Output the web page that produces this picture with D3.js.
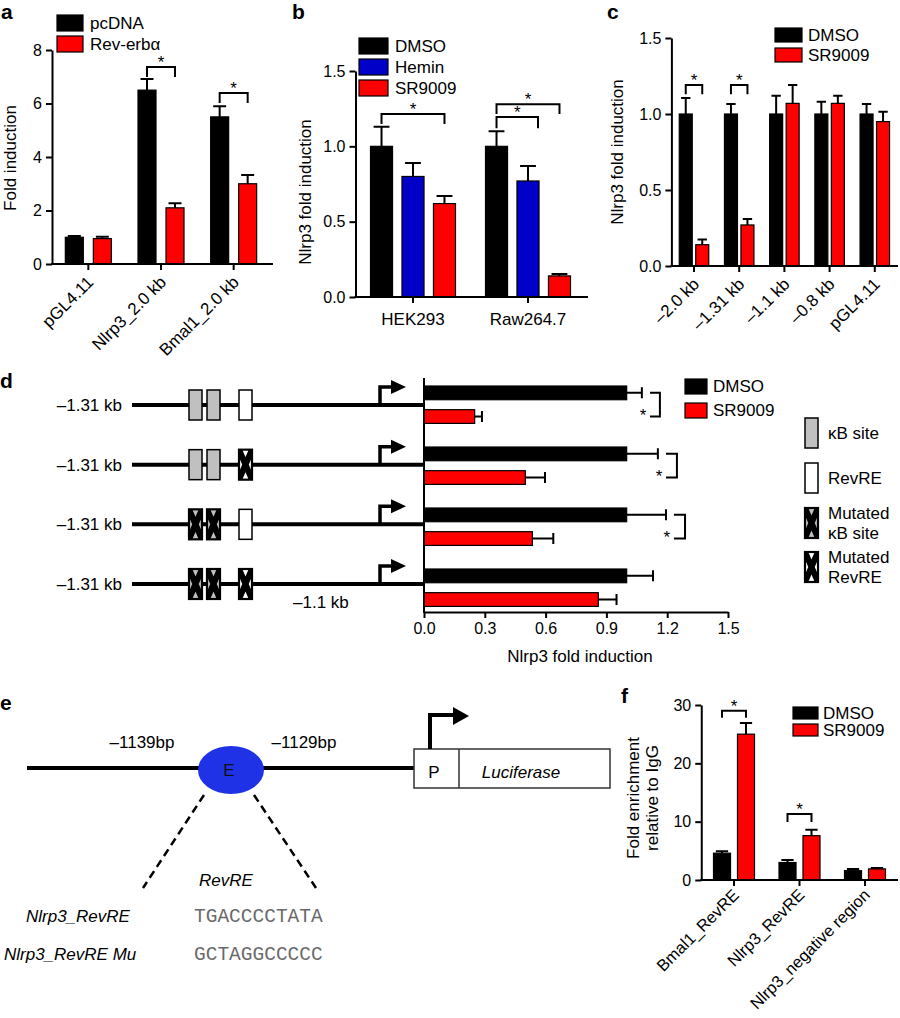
<!DOCTYPE html>
<html>
<head>
<meta charset="utf-8">
<script src="https://cdn.jsdelivr.net/npm/d3@7"></script>
<style>
  body { margin: 0; background: #fff; }
  text { font-family: "Liberation Sans", Arial, Helvetica, sans-serif; fill: #000; }
</style>
</head>
<body>
<div id="fig"></div>
<script>
// ---- panel a : luciferase reporters, pcDNA vs Rev-erba
const aGroups = ["pGL4.11", "Nlrp3_2.0 kb", "Bmal1_2.0 kb"];
const aSeries = ["pcDNA", "Rev-erbα"];
const aMeans = [[1.0, 0.95], [6.5, 2.1], [5.5, 3.0]];
const aErrs = [[0.05, 0.07], [0.42, 0.17], [0.4, 0.33]];
const aTicks = [0, 2, 4, 6, 8];

// ---- panel b : DMSO / Hemin / SR9009 in two cell lines
const bGroups = ["HEK293", "Raw264.7"];
const bSeries = ["DMSO", "Hemin", "SR9009"];
const bMeans = [[1.0, 0.80, 0.62], [1.0, 0.77, 0.14]];
const bErrs = [[0.13, 0.09, 0.05], [0.10, 0.10, 0.012]];
const bTicks = [0, 0.5, 1.0, 1.5];

// ---- panel c : promoter deletions
const cGroups = ["–2.0 kb", "–1.31 kb", "–1.1 kb", "–0.8 kb", "pGL4.11"];
const cSeries = ["DMSO", "SR9009"];
const cMeans = [[1.0, 0.14], [1.0, 0.27], [1.0, 1.07], [1.0, 1.07], [1.0, 0.95]];
const cErrs = [[0.105, 0.035], [0.065, 0.04], [0.12, 0.12], [0.08, 0.05], [0.065, 0.065]];
const cTicks = [0, 0.5, 1.0, 1.5];

// ---- panel d : site mutants of the -1.31 kb construct
const dConstructs = ["wt", "RevRE mut", "kB mut", "kB + RevRE mut"];
const dLabels = ["–1.31 kb", "–1.31 kb", "–1.31 kb", "–1.31 kb"];
const dSites = [["kB", "kB", "RevRE"], ["kB", "kB", "mRevRE"], ["mkB", "mkB", "RevRE"], ["mkB", "mkB", "mRevRE"]];
const dSeries = ["DMSO", "SR9009"];
const dMeans = [[1.0, 0.25], [1.0, 0.50], [1.0, 0.535], [1.0, 0.86]];
const dErrs = [[0.075, 0.036], [0.154, 0.097], [0.194, 0.103], [0.13, 0.09]];
const dTicks = [0, 0.3, 0.6, 0.9, 1.2, 1.5];
const dSiteLegend = [["kB", ["κB site"]], ["RevRE", ["RevRE"]], ["mkB", ["Mutated", "κB site"]], ["mRevRE", ["Mutated", "RevRE"]]];

// ---- panel e : construct scheme
const eSeqNames = ["Nlrp3_RevRE", "Nlrp3_RevRE Mu"];
const eSeqs = ["TGACCCCTATA", "GCTAGGCCCCC"];

// ---- panel f : ChIP enrichment
const fGroups = ["Bmal1_RevRE", "Nlrp3_RevRE", "Nlrp3_negative region"];
const fSeries = ["DMSO", "SR9009"];
const fMeans = [[4.6, 25.0], [3.0, 7.6], [1.6, 1.9]];
const fErrs = [[0.35, 1.9], [0.45, 1.0], [0.3, 0.15]];
const fTicks = [0, 10, 20, 30];

const RED = "#ff0000", BLUE = "#0000c8", GRAY = "#c0c0c0";
const FS = 17;   // label font size
const TS = 16;   // tick font size

const svg = d3.select("#fig").append("svg")
  .attr("width", 900).attr("height", 1018);

function letter(t, x, y) {
  svg.append("text").attr("x", x).attr("y", y)
    .style("font-size", "21px").style("font-weight", "bold").text(t);
}

function styleAxis(sel, size) {
  sel.selectAll("path, line").attr("stroke", "#000").attr("stroke-width", 2);
  sel.selectAll("text").style("font-size", size + "px")
    .style("font-family", '"Liberation Sans", Arial, sans-serif');
}

// vertical grouped bar panel (a, b, c, f)
function vBarPanel(o) {
  const g = svg.append("g");
  const x0 = d3.scaleBand().domain(o.groups).range(o.xRange);
  const x1 = d3.scaleBand().domain(o.series).range(o.inner).paddingInner(o.pad);
  const y = d3.scaleLinear().domain([0, o.yMax]).range(o.yRange);
  const cx = grp => x0(grp) + x0.bandwidth() / 2;
  const bw = x1.bandwidth();
  const bx = (grp, s) => cx(grp) + x1(s);

  const rows = o.groups.flatMap((grp, i) => o.series.map((s, j) =>
    ({ grp, s, j, m: o.means[i][j], e: o.errs[i][j] })));

  g.selectAll(".whisk").data(rows).enter().append("path")
    .attr("d", d => {
      const xm = bx(d.grp, d.s) + bw / 2, cw = bw * 0.36, yt = y(d.m + d.e);
      return `M${xm},${y(d.m)}V${yt}M${xm - cw},${yt}H${xm + cw}`;
    })
    .attr("stroke", "#000").attr("stroke-width", 2).attr("fill", "none");

  g.selectAll(".bar").data(rows).enter().append("rect")
    .attr("x", d => bx(d.grp, d.s))
    .attr("y", d => y(d.m))
    .attr("width", bw)
    .attr("height", d => y(0) - y(d.m))
    .attr("fill", d => o.colors[d.j])
    .attr("stroke", "#000").attr("stroke-width", 1.2);

  const ya = g.append("g").attr("transform", `translate(${o.xRange[0]},0)`)
    .call(d3.axisLeft(y).tickValues(o.yTicks).tickFormat(o.fmt)
      .tickSize(6).tickSizeOuter(0).tickPadding(4));
  styleAxis(ya, TS);

  g.append("line").attr("x1", o.xRange[0] - 1).attr("x2", o.xEnd)
    .attr("y1", y(0)).attr("y2", y(0)).attr("stroke", "#000").attr("stroke-width", 2);
  g.selectAll(".xt").data(o.groups).enter().append("line")
    .attr("x1", cx).attr("x2", cx).attr("y1", y(0)).attr("y2", y(0) + 6)
    .attr("stroke", "#000").attr("stroke-width", 2);

  if (o.rotate) {
    const off = o.labelOff || 15;
    g.selectAll(".xl").data(o.groups).enter().append("text")
      .attr("transform", d => `translate(${cx(d) + 2},${y(0) + off}) rotate(-45)`)
      .attr("text-anchor", "end").attr("dy", "0.35em")
      .style("font-size", (o.labelSize || FS) + "px").text(d => d);
  } else {
    g.selectAll(".xl").data(o.groups).enter().append("text")
      .attr("x", cx).attr("y", y(0) + 28).attr("text-anchor", "middle")
      .style("font-size", FS + "px").text(d => d);
  }

  // significance brackets
  (o.brackets || []).forEach(b => {
    const grp = o.groups[b.g];
    const xa = bx(grp, o.series[b.a]) + bw / 2;
    const xb = bx(grp, o.series[b.b]) + bw / 2 + (b.dx || 0);
    g.append("path")
      .attr("d", `M${xa},${y(b.drop)}V${y(b.top)}H${xb}V${y(b.drop)}`)
      .attr("fill", "none").attr("stroke", "#000").attr("stroke-width", 2);
    g.append("text").attr("x", (xa + xb) / 2).attr("y", y(b.top) + 1)
      .attr("text-anchor", "middle").style("font-size", "17px").text("*");
  });

  // legend
  const L = o.legend;
  const lg = g.selectAll(".lg").data(o.series).enter().append("g")
    .attr("transform", (d, i) => `translate(${L.x},${L.y + i * L.step})`);
  lg.append("rect").attr("width", L.w).attr("height", L.h)
    .attr("fill", (d, i) => o.colors[i]).attr("stroke", "#000").attr("stroke-width", 1.2);
  lg.append("text").attr("x", L.w + L.gap).attr("y", L.h / 2).attr("dy", "0.35em")
    .style("font-size", FS + "px").text(d => d);

  // y label
  o.yLabel.lines.forEach((t, i) => {
    g.append("text")
      .attr("transform", `translate(${o.yLabel.x + i * 19},${o.yLabel.y}) rotate(-90)`)
      .attr("text-anchor", "middle").style("font-size", FS + "px").text(t);
  });
}

// ---------------- a
letter("a", 1, 19);
vBarPanel({
  groups: aGroups, series: aSeries, means: aMeans, errs: aErrs,
  colors: ["#000", RED], xRange: [52, 270], xEnd: 273, inner: [-23, 23], pad: 0.357,
  yMax: 8, yRange: [264, 50], yTicks: aTicks, fmt: d3.format("d"), rotate: true,
  brackets: [{ g: 1, a: 0, b: 1, top: 7.36, drop: 6.99 }, { g: 2, a: 0, b: 1, top: 6.39, drop: 6.02 }],
  legend: { x: 57, y: 15, w: 26, h: 16, step: 21, gap: 7 },
  yLabel: { x: 16, y: 158, lines: ["Fold induction"] }
});

// ---------------- b
letter("b", 292, 19);
vBarPanel({
  groups: bGroups, series: bSeries, means: bMeans, errs: bErrs,
  colors: ["#000", BLUE, RED], xRange: [355.5, 585.5], xEnd: 588, inner: [-42.5, 42.5], pad: 0.30,
  yMax: 1.5, yRange: [297, 71], yTicks: bTicks, fmt: d3.format(".1f"), rotate: false,
  brackets: [
    { g: 0, a: 0, b: 2, top: 1.214, drop: 1.148 },
    { g: 1, a: 0, b: 2, top: 1.28, drop: 1.214 },
    { g: 1, a: 0, b: 1, top: 1.195, drop: 1.12, dx: 10 }
  ],
  legend: { x: 359, y: 38, w: 29, h: 16, step: 21, gap: 7 },
  yLabel: { x: 311, y: 192, lines: ["Nlrp3 fold induction"] }
});

// ---------------- c
letter("c", 607, 19);
vBarPanel({
  groups: cGroups, series: cSeries, means: cMeans, errs: cErrs,
  colors: ["#000", RED], xRange: [671.4, 897.4], xEnd: 898, inner: [-14.75, 14.75], pad: 0.212,
  yMax: 1.5, yRange: [266, 38], yTicks: cTicks, fmt: d3.format(".1f"), rotate: true,
  brackets: [{ g: 0, a: 0, b: 1, top: 1.19, drop: 1.13 }, { g: 1, a: 0, b: 1, top: 1.19, drop: 1.13 }],
  legend: { x: 775, y: 28, w: 27, h: 14, step: 20, gap: 6 },
  yLabel: { x: 623, y: 152, lines: ["Nlrp3 fold induction"] }
});

// ---------------- f
letter("f", 621, 703);
vBarPanel({
  groups: fGroups, series: fSeries, means: fMeans, errs: fErrs,
  colors: ["#000", RED], xRange: [701.25, 897.75], xEnd: 898, inner: [-20.5, 20.5], pad: 0.29,
  yMax: 30, yRange: [880, 705], yTicks: fTicks, fmt: d3.format("d"), rotate: true,
  labelOff: 12, labelSize: 16.5,
  brackets: [{ g: 0, a: 0, b: 1, top: 29.0, drop: 27.8 }, { g: 1, a: 0, b: 1, top: 11.3, drop: 9.95 }],
  legend: { x: 793, y: 707, w: 25, h: 12, step: 17, gap: 5 },
  yLabel: { x: 639, y: 798, lines: ["Fold enrichment", "relative to IgG"] }
});

// ---------------- d
letter("d", 0, 388);
const dg = svg.append("g");
const xd = d3.scaleLinear().domain([0, 1.5]).range([424, 728]);
const yd = d3.scaleBand().domain(dConstructs).range([374, 618]);
const yd1 = d3.scaleBand().domain(dSeries).range([12, 49.4]).paddingInner(0.42);
const lineY = d3.scalePoint().domain(dConstructs).range([405, 584]);
const siteX = [189, 207, 239];
let clipId = 0;

function drawSite(g, type, x, yc) {
  const w = 13, h = 30, y0 = yc - h / 2;
  const fill = (type === "kB" || type === "mkB") ? GRAY : "#fff";
  g.append("rect").attr("x", x).attr("y", y0).attr("width", w).attr("height", h)
    .attr("fill", fill).attr("stroke", "none");
  if (type[0] === "m") {
    const id = "clip" + (clipId++);
    g.append("clipPath").attr("id", id).append("rect")
      .attr("x", x).attr("y", y0).attr("width", w).attr("height", h);
    g.append("path").attr("clip-path", `url(#${id})`)
      .attr("d", `M${x},${y0}L${x + w},${y0 + h}M${x + w},${y0}L${x},${y0 + h}`)
      .attr("stroke", "#000").attr("stroke-width", 6).attr("fill", "none");
  }
  g.append("rect").attr("x", x).attr("y", y0).attr("width", w).attr("height", h)
    .attr("fill", "none").attr("stroke", "#000").attr("stroke-width", type[0] === "m" ? 2.2 : 1.5);
}

dConstructs.forEach((c, i) => {
  const ly = lineY(c);
  dg.append("line").attr("x1", 132).attr("x2", 424).attr("y1", ly).attr("y2", ly)
    .attr("stroke", "#000").attr("stroke-width", 4);
  dg.append("text").attr("x", 122).attr("y", ly).attr("dy", "0.35em")
    .attr("text-anchor", "end").style("font-size", FS + "px").text(dLabels[i]);
  dSites[i].forEach((s, k) => drawSite(dg, s, siteX[k], ly));
  // transcription start arrow
  const ax = 380;
  dg.append("path").attr("d", `M${ax},${ly}V${ly - 18}H${ax + 13}`)
    .attr("fill", "none").attr("stroke", "#000").attr("stroke-width", 3.5);
  dg.append("path").attr("d", `M${ax + 11},${ly - 25}L${ax + 26},${ly - 18}L${ax + 11},${ly - 11}Z`)
    .attr("fill", "#000");
});
dg.append("text").attr("x", 293).attr("y", 608).style("font-size", FS + "px").text("–1.1 kb");

const dRows = dConstructs.flatMap((c, i) => dSeries.map((s, j) =>
  ({ c, s, j, m: dMeans[i][j], e: dErrs[i][j] })));
dg.selectAll(".dwhisk").data(dRows).enter().append("path")
  .attr("d", d => {
    const ym = yd(d.c) + yd1(d.s) + yd1.bandwidth() / 2, ch = yd1.bandwidth() * 0.4, xt = xd(d.m + d.e);
    return `M${xd(d.m)},${ym}H${xt}M${xt},${ym - ch}V${ym + ch}`;
  })
  .attr("stroke", "#000").attr("stroke-width", 2).attr("fill", "none");
dg.selectAll(".dbar").data(dRows).enter().append("rect")
  .attr("x", xd(0))
  .attr("y", d => yd(d.c) + yd1(d.s))
  .attr("width", d => xd(d.m) - xd(0))
  .attr("height", yd1.bandwidth())
  .attr("fill", d => d.j === 0 ? "#000" : RED)
  .attr("stroke", "#000").attr("stroke-width", 1.2);

const dxa = dg.append("g").attr("transform", "translate(0,612)")
  .call(d3.axisBottom(xd).tickValues(dTicks).tickFormat(d3.format(".1f"))
    .tickSize(6).tickSizeOuter(0).tickPadding(5));
styleAxis(dxa, TS);
dg.append("line").attr("x1", 424).attr("x2", 424).attr("y1", 378).attr("y2", 613)
  .attr("stroke", "#000").attr("stroke-width", 2);
dg.append("text").attr("x", 580).attr("y", 662).attr("text-anchor", "middle")
  .style("font-size", FS + "px").text("Nlrp3 fold induction");

// brackets for rows 1-3
const dBrackets = [{ r: 0, top: 1.164, drop: 1.115 }, { r: 1, top: 1.248, drop: 1.194 }, { r: 2, top: 1.288, drop: 1.233 }];
dBrackets.forEach(b => {
  const c = dConstructs[b.r];
  const ya = yd(c) + yd1("DMSO") + yd1.bandwidth() / 2;
  const yb = yd(c) + yd1("SR9009") + yd1.bandwidth() / 2;
  dg.append("path").attr("d", `M${xd(b.drop)},${ya}H${xd(b.top)}V${yb}H${xd(b.drop)}`)
    .attr("fill", "none").attr("stroke", "#000").attr("stroke-width", 2);
  dg.append("text").attr("x", xd(b.drop) - 7).attr("y", yb + 4)
    .attr("text-anchor", "middle").style("font-size", "17px").text("*");
});

// legends
const dlg = dg.selectAll(".dlg").data(dSeries).enter().append("g")
  .attr("transform", (d, i) => `translate(685,${379 + i * 24})`);
dlg.append("rect").attr("width", 22).attr("height", 15)
  .attr("fill", (d, i) => i === 0 ? "#000" : RED).attr("stroke", "#000").attr("stroke-width", 1.2);
dlg.append("text").attr("x", 28).attr("y", 7.5).attr("dy", "0.35em")
  .style("font-size", FS + "px").text(d => d);

const siteLegY = [433, 478, 523, 567];
dSiteLegend.forEach(([type, lines], i) => {
  drawSite(dg, type, 805, siteLegY[i]);
  lines.forEach((t, k) => {
    dg.append("text").attr("x", 828)
      .attr("y", siteLegY[i] + (lines.length === 1 ? 0 : (k === 0 ? -10 : 10)))
      .attr("dy", "0.35em").style("font-size", FS + "px").text(t);
  });
});

// ---------------- e
letter("e", 0, 710);
const eg = svg.append("g");
eg.append("line").attr("x1", 27).attr("x2", 414).attr("y1", 768).attr("y2", 768)
  .attr("stroke", "#000").attr("stroke-width", 4);
eg.append("ellipse").attr("cx", 231).attr("cy", 770).attr("rx", 33).attr("ry", 24)
  .attr("fill", "#1f32e6");
eg.append("text").attr("x", 229).attr("y", 776).attr("text-anchor", "middle")
  .style("font-size", "17px").style("fill", "#111").text("E");
eg.append("text").attr("x", 142).attr("y", 748).attr("text-anchor", "middle")
  .style("font-size", FS + "px").text("–1139bp");
eg.append("text").attr("x", 304).attr("y", 748).attr("text-anchor", "middle")
  .style("font-size", FS + "px").text("–1129bp");
eg.append("rect").attr("x", 414).attr("y", 749).attr("width", 196).attr("height", 39)
  .attr("fill", "#fff").attr("stroke", "#333").attr("stroke-width", 1.5);
eg.append("line").attr("x1", 459).attr("x2", 459).attr("y1", 749).attr("y2", 788)
  .attr("stroke", "#333").attr("stroke-width", 1.5);
eg.append("text").attr("x", 434).attr("y", 778).attr("text-anchor", "middle")
  .style("font-size", "17px").text("P");
eg.append("text").attr("x", 521).attr("y", 778).attr("text-anchor", "middle")
  .style("font-size", "17px").style("font-style", "italic").text("Luciferase");
eg.append("path").attr("d", "M430,749V715H455").attr("fill", "none")
  .attr("stroke", "#000").attr("stroke-width", 4);
eg.append("path").attr("d", "M453,707L469,716L453,725Z").attr("fill", "#000");
eg.append("line").attr("x1", 204).attr("y1", 795).attr("x2", 143).attr("y2", 888)
  .attr("stroke", "#000").attr("stroke-width", 2.5).attr("stroke-dasharray", "8,5");
eg.append("line").attr("x1", 254).attr("y1", 795).attr("x2", 316).attr("y2", 888)
  .attr("stroke", "#000").attr("stroke-width", 2.5).attr("stroke-dasharray", "8,5");
eg.append("text").attr("x", 226).attr("y", 886).attr("text-anchor", "middle")
  .style("font-size", FS + "px").style("font-style", "italic").text("RevRE");
eSeqNames.forEach((n, i) => {
  eg.append("text").attr("x", i === 0 ? 26 : 4).attr("y", 922 + i * 38)
    .style("font-size", FS + "px").style("font-style", "italic").text(n);
  eg.append("text").attr("x", 194).attr("y", 922 + i * 38)
    .style("font-family", '"Liberation Mono", "Courier New", monospace')
    .style("font-size", "19.5px").style("fill", "#6a6a6a").text(eSeqs[i]);
});
</script>
</body>
</html>
